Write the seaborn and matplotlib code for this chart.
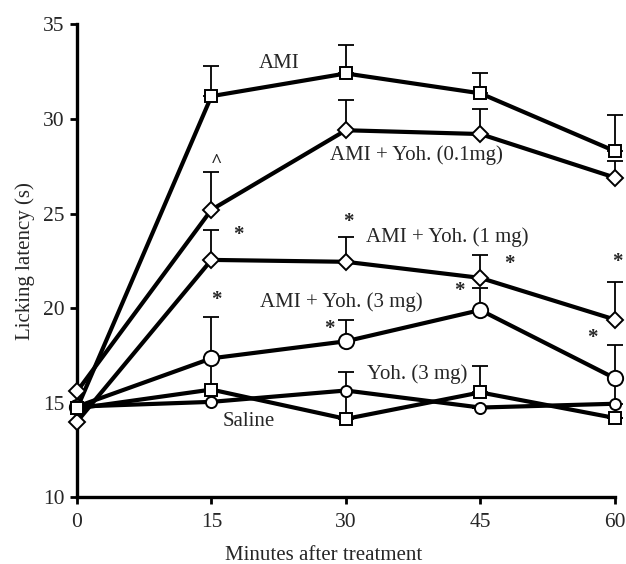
import numpy as np
import pandas as pd
import matplotlib
matplotlib.use("Agg")
import matplotlib.pyplot as plt
import seaborn as sns

# ---------------------------------------------------------------------------
# data
# ---------------------------------------------------------------------------
minutes = [0, 15, 30, 45, 60]

ami = [14.7, 31.2, 32.4, 31.35, 28.3]
ami_err = [0, 1.6, 1.5, 1.1, 1.9]

ami_yoh01 = [15.6, 25.2, 29.4, 29.2, 26.9]
ami_yoh01_err = [0, 2.0, 1.6, 1.3, 0.9]

ami_yoh1 = [14.0, 22.55, 22.45, 21.6, 19.4]
ami_yoh1_err = [0, 1.6, 1.3, 1.2, 2.0]

ami_yoh3 = [14.8, 17.35, 18.25, 19.9, 16.3]
ami_yoh3_err = [0, 2.2, 1.15, 1.15, 1.75]

yoh3 = [14.8, 15.05, 15.65, 14.75, 14.95]
yoh3_err = [0, 0, 1.0, 0, 1.3]

saline = [14.7, 15.7, 14.15, 15.55, 14.2]
saline_err = [0, 1.6, 1.5, 1.4, 0]

series = {
    "AMI": (ami, ami_err, "s", 8.5),
    "AMI + Yoh. (0.1mg)": (ami_yoh01, ami_yoh01_err, "D", 8),
    "AMI + Yoh. (1 mg)": (ami_yoh1, ami_yoh1_err, "D", 8),
    "AMI + Yoh. (3 mg)": (ami_yoh3, ami_yoh3_err, "o", 11),
    "Yoh. (3 mg)": (yoh3, yoh3_err, "o", 8),
    "Saline": (saline, saline_err, "s", 8),
}

# label positions (data coords)
labels = [
    ("AMI", 22.6, 32.95, "center"),
    ("AMI + Yoh. (0.1mg)", 28.2, 28.1, "left"),
    ("AMI + Yoh. (1 mg)", 32.3, 23.75, "left"),
    ("AMI + Yoh. (3 mg)", 20.4, 20.3, "left"),
    ("Yoh. (3 mg)", 32.4, 16.5, "left"),
    ("Saline", 16.2, 14.0, "left"),
]

stars = [(17.96, 23.86), (30.33, 24.55), (15.5, 20.43), (28.2, 18.9),
         (48.2, 22.33), (42.7, 20.9), (60.3, 22.43), (57.5, 18.42)]
caret = (15.6, 27.7)

# ---------------------------------------------------------------------------
sns.set_theme(style="ticks")
plt.rcParams["font.family"] = ["Liberation Serif", "DejaVu Serif"]

fig = plt.figure(figsize=(6.26, 5.64), dpi=100)
ax = fig.add_axes([0.123, 0.118, 0.859, 0.839])

for name, (vals, err, mk, ms) in series.items():
    df = pd.DataFrame({"min": minutes, "lat": vals})
    err = np.array(err)
    ax.errorbar(minutes, vals, yerr=[np.zeros_like(err), err], fmt="none",
                ecolor="black", elinewidth=1.3, capsize=6, capthick=1.3,
                zorder=2, clip_on=False)
    sns.lineplot(data=df, x="min", y="lat", ax=ax, color="black",
                 linewidth=3.0, marker=mk, markersize=ms,
                 markerfacecolor="white", markeredgecolor="black",
                 markeredgewidth=1.4, zorder=3, clip_on=False)

for txt, x, y, ha in labels:
    ax.text(x, y, txt, ha=ha, va="center", fontsize=15)

for x, y in stars:
    ax.text(x, y, "*", ha="center", va="center", fontsize=15,
            fontweight="bold")
ax.text(caret[0], caret[1], "^", ha="center", va="center", fontsize=14,
        fontweight="bold")

ax.set_xlim(0, 60)
ax.set_ylim(10, 35)
ax.set_xticks(minutes)
ax.set_yticks([10, 15, 20, 25, 30, 35])
ax.set_xlabel("Minutes after treatment", fontsize=15, labelpad=10)
ax.xaxis.label.set_x(0.459)
ax.set_ylabel("Licking latency (s)", fontsize=15, labelpad=6)
ax.tick_params(axis="both", labelsize=15.5, direction="out", length=5,
               width=2, color="black", pad=4)
ax.tick_params(axis="x", pad=6)
for s in ["top", "right"]:
    ax.spines[s].set_visible(False)
for s in ["left", "bottom"]:
    ax.spines[s].set_linewidth(2.4)
    ax.spines[s].set_color("black")

fig.savefig("out.png", dpi=100)
